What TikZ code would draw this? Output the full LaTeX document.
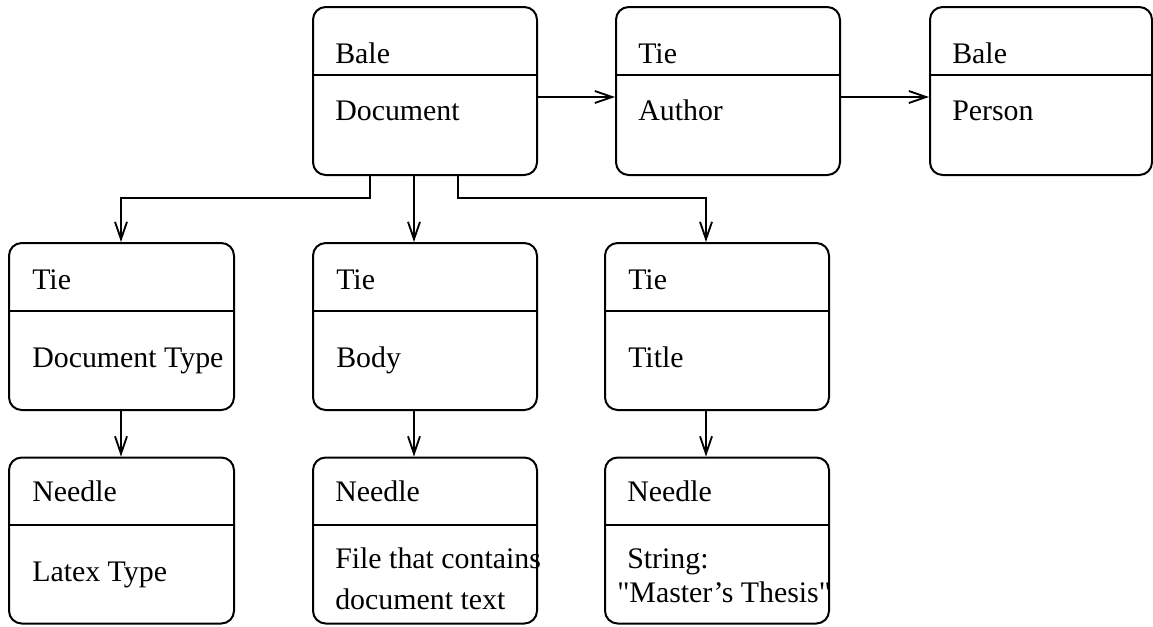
\documentclass[tikz,border=0pt]{standalone}
\usepackage{fontspec}
\setmainfont{Liberation Serif}[Ligatures=TeXOff]
\usetikzlibrary{arrows.meta}
\begin{document}
\begin{tikzpicture}[x=0.75pt,y=-0.75pt,
  box/.style={draw, line width=1.5pt, rounded corners=9.5pt, inner sep=0pt, minimum width=224*0.75pt, minimum height=168*0.75pt},
  txt/.style={anchor=base west, inner sep=0pt, font=\fontsize{22.4pt}{27pt}\selectfont},
  divider/.style={line width=1.5pt},
  arr/.style={line width=1.4pt, -{Straight Barb[length=13pt, width=9pt, line width=1.4pt]}}]
\useasboundingbox (0,0) rectangle (1153,626);
% boxes
\node[box] (doc) at (425,91) {};
\node[box] (author) at (728,91) {};
\node[box, minimum width=222*0.75pt] (person) at (1041,91) {};
\node[box, minimum width=225*0.75pt, minimum height=167*0.75pt] (doctype) at (121.5,326.5) {};
\node[box, minimum height=167*0.75pt] (body) at (425,326.5) {};
\node[box, minimum height=167*0.75pt] (title) at (717,326.5) {};
\node[box, minimum width=225*0.75pt, minimum height=166*0.75pt] (latex) at (121.5,540.5) {};
\node[box, minimum height=166*0.75pt] (file) at (425,540.5) {};
\node[box, minimum height=166*0.75pt] (string) at (717,540.5) {};
% dividers
\draw[divider] (doc.west |- 0,75) -- (doc.east |- 0,75);
\draw[divider] (author.west |- 0,75) -- (author.east |- 0,75);
\draw[divider] (person.west |- 0,75) -- (person.east |- 0,75);
\draw[divider] (doctype.west |- 0,311) -- (doctype.east |- 0,311);
\draw[divider] (body.west |- 0,311) -- (body.east |- 0,311);
\draw[divider] (title.west |- 0,311) -- (title.east |- 0,311);
\draw[divider] (latex.west |- 0,525) -- (latex.east |- 0,525);
\draw[divider] (file.west |- 0,525) -- (file.east |- 0,525);
\draw[divider] (string.west |- 0,525) -- (string.east |- 0,525);
% texts
\node[txt] (doch) at (335,63) {Bale};
\node[txt] (docc) at (335,120) {Document};
\node[txt] (authh) at (638,63) {Tie};
\node[txt] (authc) at (638,120) {Author};
\node[txt] (persh) at (952,63) {Bale};
\node[txt] (persc) at (952,120) {Person};
\node[txt] (dth) at (32,289) {Tie};
\node[txt] (dtc) at (32,367) {Document Type};
\node[txt] (bodyh) at (336,289) {Tie};
\node[txt] (bodyc) at (336,367) {Body};
\node[txt] (titleh) at (628,289) {Tie};
\node[txt] (titlec) at (628,367) {Title};
\node[txt] (latexh) at (32,501) {Needle};
\node[txt] (latexc) at (32,581) {Latex Type};
\node[txt] (fileh) at (335,501) {Needle};
\node[txt] (filec1) at (335,568) {File that contains};
\node[txt] (filec2) at (335,609) {document text};
\node[txt] (strh) at (627,501) {Needle};
\node[txt] (strc1) at (627,568) {String:};
\node[txt] (strc2) at (617,602) {"Master’s Thesis"};
% connectors
\draw[arr] (doc.east |- 0,97) -- (author.west |- 0,97);
\draw[arr] (author.east |- 0,97) -- (person.west |- 0,97);
\draw[arr] (doc.south -| 370,0) |- (121,198) -- (doctype.north -| 121,0);
\draw[arr] (doc.south -| 414,0) -- (body.north -| 414,0);
\draw[arr] (doc.south -| 458,0) |- (706,198) -- (title.north -| 706,0);
\draw[arr] (doctype.south -| 121,0) -- (latex.north -| 121,0);
\draw[arr] (body.south -| 414,0) -- (file.north -| 414,0);
\draw[arr] (title.south -| 706,0) -- (string.north -| 706,0);
\end{tikzpicture}
\end{document}
